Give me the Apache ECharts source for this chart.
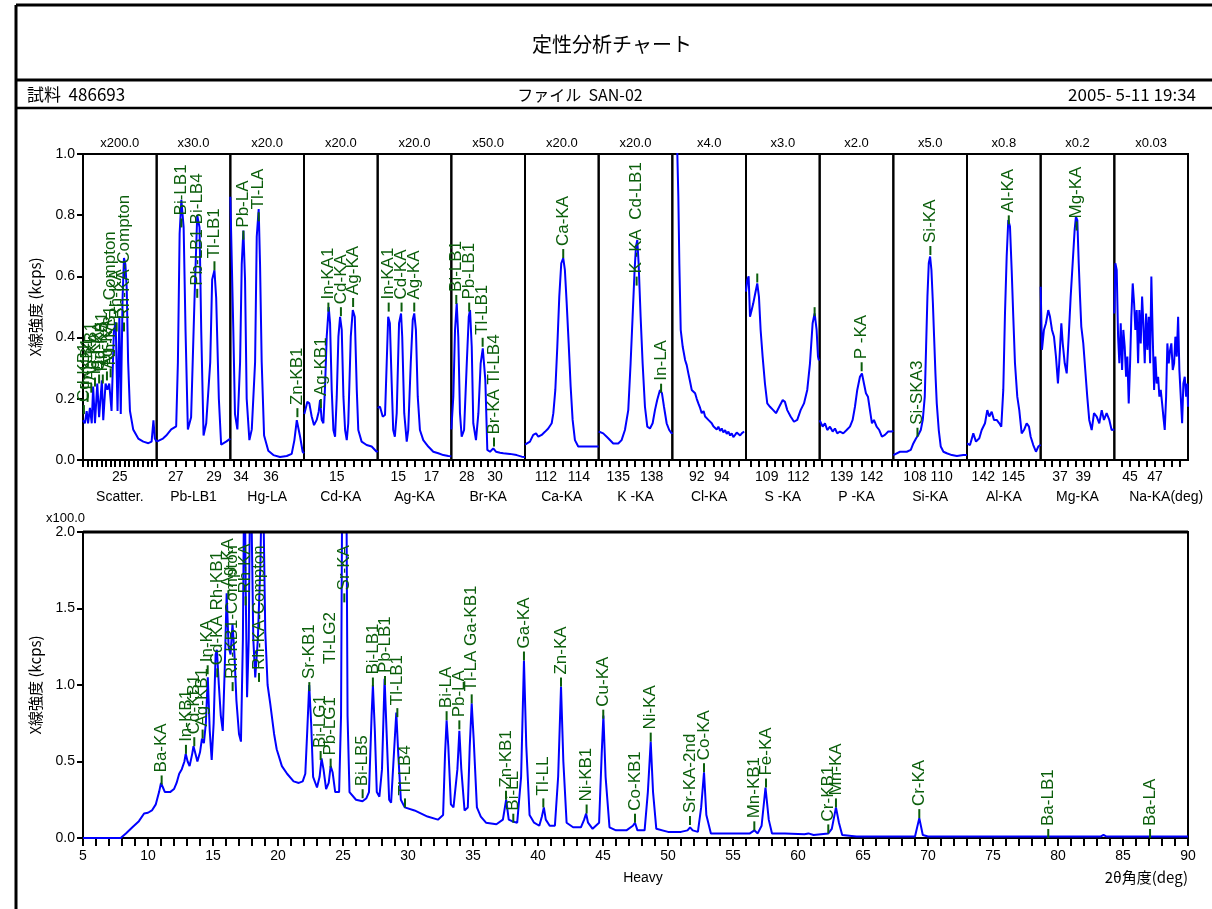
<!DOCTYPE html>
<html><head><meta charset="utf-8">
<script src="https://cdn.jsdelivr.net/npm/echarts@6/dist/echarts.min.js"></script>
<style>html,body{margin:0;padding:0;background:#fff}#c{width:1212px;height:909px}</style>
</head><body><div id="c"></div>
<script>
// ---------------- DATA ----------------
const panelNames = ['Scatter.','Pb-LB1','Hg-LA','Cd-KA','Ag-KA','Br-KA','Ca-KA','K -KA','Cl-KA','S -KA','P -KA','Si-KA','Al-KA','Mg-KA','Na-KA(deg)'];
const panelMultipliers = ['x200.0','x30.0','x20.0','x20.0','x20.0','x50.0','x20.0','x20.0','x4.0','x3.0','x2.0','x5.0','x0.8','x0.2','x0.03'];
const panelRanges = [[24.2,25.8],[26.0,29.85],[33.29,38.2],[13.04,17.45],[13.77,18.18],[26.91,32.11],[110.73,115.2],[133.24,139.86],[90.05,95.94],[107.03,114.03],[136.8,144.17],[106.37,111.9],[140.37,147.74],[35.35,41.66],[43.74,49.63]];
const panelTickLabels = [[25],[27,29],[34,36],[15],[15,17],[28,30],[112,114],[135,138],[92,94],[109,112],[139,142],[108,110],[142,145],[37,39],[45,47]];
const panelTickSteps = [0.1,0.5,0.5,0.5,0.5,0.5,0.5,0.75,2/3,0.75,1,2/3,0.75,2/3,2/3];

const pScatter = [[24.2,0.13],[24.24,0.12],[24.28,0.16],[24.31,0.12],[24.35,0.17],[24.39,0.12],[24.42,0.24],[24.46,0.12],[24.51,0.25],[24.55,0.14],[24.61,0.26],[24.64,0.13],[24.69,0.25],[24.73,0.23],[24.77,0.25],[24.82,0.16],[24.87,0.42],[24.91,0.45],[24.95,0.16],[24.99,0.47],[25.02,0.15],[25.06,0.53],[25.09,0.66],[25.12,0.64],[25.15,0.56],[25.18,0.32],[25.22,0.16],[25.29,0.1],[25.4,0.07],[25.51,0.06],[25.62,0.055],[25.69,0.06],[25.73,0.13],[25.76,0.07],[25.8,0.06]];
const pPbLB1 = [[26.0,0.06],[26.33,0.07],[26.5,0.08],[26.76,0.1],[27.02,0.11],[27.11,0.32],[27.2,0.74],[27.29,0.85],[27.41,0.76],[27.51,0.42],[27.63,0.1],[27.8,0.14],[27.98,0.53],[28.12,0.8],[28.24,0.76],[28.33,0.42],[28.45,0.08],[28.59,0.12],[28.8,0.32],[28.9,0.59],[29.02,0.62],[29.11,0.53],[29.25,0.2],[29.37,0.05],[29.63,0.06],[29.85,0.07]];
const pHgLA = [[33.29,0.86],[33.32,0.86],[33.49,0.42],[33.6,0.15],[33.76,0.1],[33.94,0.32],[34.05,0.64],[34.16,0.75],[34.27,0.59],[34.38,0.2],[34.56,0.065],[34.72,0.1],[34.94,0.32],[35.05,0.73],[35.18,0.82],[35.27,0.64],[35.38,0.32],[35.54,0.08],[35.82,0.03],[36.16,0.016],[36.6,0.01],[37.05,0.013],[37.38,0.02],[37.56,0.065],[37.72,0.13],[37.8,0.136],[37.94,0.076],[38.11,0.027],[38.2,0.022]];
const pCdKA = [[13.06,0.15],[13.1,0.15],[13.24,0.19],[13.36,0.185],[13.5,0.142],[13.64,0.114],[13.8,0.131],[13.92,0.158],[14.0,0.196],[14.1,0.131],[14.2,0.12],[14.3,0.24],[14.4,0.403],[14.52,0.5],[14.6,0.447],[14.7,0.229],[14.8,0.098],[14.9,0.076],[15.0,0.207],[15.1,0.403],[15.2,0.468],[15.3,0.425],[15.4,0.207],[15.5,0.098],[15.6,0.065],[15.69,0.12],[15.84,0.403],[15.96,0.49],[16.08,0.468],[16.2,0.229],[16.29,0.098],[16.49,0.06],[16.79,0.049],[17.09,0.044],[17.39,0.027],[17.45,0.03]];
const pAgKA = [[13.77,0.17],[13.91,0.174],[14.07,0.142],[14.21,0.147],[14.31,0.316],[14.4,0.468],[14.5,0.447],[14.61,0.25],[14.7,0.098],[14.8,0.076],[14.91,0.153],[15.05,0.447],[15.17,0.479],[15.24,0.403],[15.36,0.153],[15.51,0.06],[15.6,0.098],[15.75,0.316],[15.87,0.458],[15.96,0.479],[16.06,0.425],[16.17,0.207],[16.3,0.098],[16.5,0.065],[16.8,0.044],[17.1,0.027],[17.4,0.022],[17.7,0.016],[18.0,0.013],[18.18,0.012]];
const pBrKA = [[26.91,0.1],[27.05,0.207],[27.17,0.425],[27.29,0.512],[27.4,0.403],[27.52,0.153],[27.64,0.076],[27.81,0.098],[28.0,0.316],[28.14,0.468],[28.23,0.49],[28.35,0.37],[28.46,0.12],[28.65,0.065],[28.82,0.153],[28.98,0.316],[29.13,0.365],[29.22,0.36],[29.31,0.261],[29.45,0.033],[29.64,0.027],[29.87,0.038],[30.06,0.027],[30.35,0.024],[30.58,0.022],[31.05,0.02],[31.52,0.016],[31.88,0.011],[32.11,0.01]];
const pCaKA = [[110.73,0.05],[110.79,0.049],[111.03,0.06],[111.23,0.082],[111.4,0.087],[111.54,0.076],[111.74,0.082],[111.94,0.092],[112.14,0.103],[112.35,0.12],[112.45,0.153],[112.57,0.229],[112.69,0.37],[112.81,0.534],[112.93,0.643],[113.05,0.66],[113.15,0.621],[113.26,0.512],[113.38,0.381],[113.5,0.24],[113.62,0.131],[113.76,0.065],[113.96,0.044],[114.26,0.044],[114.67,0.044],[115.07,0.044],[115.2,0.044]];
const pKKA = [[133.24,0.093],[133.36,0.093],[133.65,0.087],[134.1,0.071],[134.55,0.054],[135.0,0.054],[135.3,0.065],[135.6,0.098],[135.9,0.163],[136.11,0.316],[136.29,0.468],[136.47,0.621],[136.59,0.697],[136.71,0.719],[136.83,0.643],[137.01,0.468],[137.19,0.316],[137.4,0.174],[137.61,0.109],[137.85,0.103],[138.09,0.12],[138.3,0.163],[138.5,0.196],[138.75,0.229],[138.93,0.218],[139.11,0.174],[139.35,0.12],[139.58,0.098],[139.8,0.087],[139.86,0.09]];
const pClKA = [[90.4,1.3],[90.45,1.0],[90.53,0.86],[90.61,0.643],[90.72,0.425],[90.88,0.37],[91.07,0.327],[91.2,0.31],[91.33,0.283],[91.45,0.26],[91.6,0.229],[91.75,0.235],[91.87,0.218],[92.0,0.2],[92.13,0.185],[92.27,0.17],[92.4,0.153],[92.55,0.16],[92.67,0.142],[92.8,0.148],[92.93,0.131],[93.07,0.125],[93.2,0.12],[93.33,0.11],[93.47,0.114],[93.6,0.1],[93.73,0.109],[93.87,0.095],[94.0,0.103],[94.13,0.09],[94.27,0.098],[94.4,0.085],[94.53,0.093],[94.67,0.08],[94.8,0.087],[94.93,0.075],[95.07,0.082],[95.2,0.09],[95.33,0.093],[95.47,0.08],[95.6,0.087],[95.79,0.093]];
const pSKA = [[107.03,0.55],[107.15,0.588],[107.28,0.6],[107.41,0.468],[107.57,0.49],[107.72,0.512],[107.91,0.545],[108.1,0.577],[108.26,0.534],[108.42,0.425],[108.61,0.338],[108.83,0.25],[109.05,0.185],[109.31,0.174],[109.62,0.163],[109.88,0.153],[110.19,0.174],[110.52,0.196],[110.73,0.19],[110.95,0.163],[111.27,0.142],[111.59,0.125],[111.9,0.131],[112.22,0.163],[112.54,0.185],[112.85,0.229],[113.11,0.316],[113.36,0.447],[113.55,0.479],[113.74,0.425],[113.87,0.338],[113.94,0.327],[114.03,0.33]];
const pPKA = [[136.8,0.13],[136.83,0.131],[137.1,0.109],[137.33,0.12],[137.56,0.098],[137.83,0.109],[138.1,0.093],[138.33,0.103],[138.56,0.087],[138.83,0.093],[139.16,0.087],[139.5,0.098],[139.83,0.109],[140.1,0.131],[140.33,0.174],[140.56,0.229],[140.83,0.272],[141.03,0.283],[141.23,0.25],[141.43,0.218],[141.63,0.207],[141.83,0.163],[142.03,0.12],[142.23,0.131],[142.5,0.109],[142.76,0.098],[143.03,0.076],[143.33,0.082],[143.66,0.093],[144.0,0.093],[144.17,0.095]];
const pSiKA = [[106.37,0.016],[106.42,0.016],[106.87,0.027],[107.38,0.027],[107.68,0.033],[107.87,0.054],[108.08,0.071],[108.25,0.082],[108.43,0.098],[108.58,0.131],[108.73,0.207],[108.83,0.37],[108.93,0.534],[109.03,0.643],[109.13,0.665],[109.23,0.621],[109.34,0.512],[109.43,0.403],[109.53,0.283],[109.63,0.185],[109.78,0.098],[109.93,0.044],[110.13,0.027],[110.38,0.022],[110.76,0.016],[111.14,0.013],[111.63,0.016],[111.9,0.016]];
const pAlKA = [[140.37,0.054],[140.4,0.054],[140.67,0.049],[141.0,0.087],[141.27,0.06],[141.6,0.071],[141.84,0.098],[142.17,0.12],[142.4,0.163],[142.6,0.142],[142.84,0.158],[143.07,0.131],[143.34,0.131],[143.6,0.12],[143.8,0.109],[144.0,0.229],[144.17,0.479],[144.34,0.665],[144.5,0.784],[144.67,0.763],[144.84,0.621],[145.0,0.468],[145.17,0.316],[145.4,0.207],[145.6,0.163],[145.84,0.087],[146.07,0.098],[146.34,0.12],[146.57,0.109],[146.74,0.076],[147.0,0.049],[147.27,0.027],[147.5,0.044],[147.74,0.05]];
const pMgKA = [[35.35,0.566],[35.38,0.566],[35.46,0.36],[35.63,0.425],[35.8,0.447],[36.0,0.49],[36.15,0.468],[36.32,0.425],[36.49,0.403],[36.66,0.338],[36.83,0.25],[36.94,0.316],[37.12,0.447],[37.24,0.381],[37.41,0.316],[37.58,0.283],[37.75,0.403],[37.92,0.534],[38.09,0.643],[38.26,0.752],[38.37,0.795],[38.49,0.784],[38.61,0.643],[38.72,0.534],[38.83,0.436],[39.0,0.381],[39.17,0.294],[39.34,0.207],[39.51,0.131],[39.72,0.098],[39.92,0.153],[40.15,0.142],[40.37,0.12],[40.58,0.163],[40.77,0.131],[41.0,0.153],[41.23,0.131],[41.43,0.098],[41.66,0.1]];
const pNaKA = [[43.74,0.479],[43.82,0.643],[43.93,0.621],[44.04,0.403],[44.14,0.316],[44.25,0.447],[44.36,0.294],[44.46,0.425],[44.57,0.37],[44.68,0.272],[44.78,0.338],[44.89,0.185],[45.0,0.316],[45.1,0.468],[45.21,0.577],[45.32,0.512],[45.42,0.425],[45.53,0.49],[45.64,0.316],[45.74,0.49],[45.85,0.381],[45.96,0.534],[46.06,0.447],[46.17,0.316],[46.28,0.479],[46.38,0.36],[46.49,0.468],[46.6,0.316],[46.7,0.6],[46.81,0.403],[46.92,0.229],[47.02,0.338],[47.13,0.25],[47.24,0.272],[47.34,0.207],[47.45,0.229],[47.56,0.185],[47.66,0.142],[47.77,0.098],[47.88,0.207],[47.98,0.381],[48.09,0.316],[48.2,0.36],[48.3,0.381],[48.41,0.294],[48.52,0.316],[48.62,0.403],[48.73,0.338],[48.84,0.468],[48.94,0.294],[49.05,0.207],[49.16,0.12],[49.26,0.25],[49.37,0.272],[49.48,0.207],[49.58,0.25],[49.63,0.174]];
const panelData = [pScatter,pPbLB1,pHgLA,pCdKA,pAgKA,pBrKA,pCaKA,pKKA,pClKA,pSKA,pPKA,pSiKA,pAlKA,pMgKA,pNaKA];

// peak labels: [text, position (deg), intensity at tick foot]
const peaksScatter = [['Cd-KB1',24.22,0.15],['In-KB1',24.3,0.19],['Ag-KB1',24.38,0.22],['In-KA',24.46,0.24],['Cd-KA',24.55,0.25],['Rh-KB1',24.63,0.25],['Ag-KA',24.72,0.26],['Rh-KB1-Compton',24.8,0.27],['Rh-KA',24.93,0.42],['Rh-KA-Compton',25.09,0.42]];
const peaksPbLB1 = [['Bi-LB1',27.29,0.76],['Pb-LB1 Bi-LB4',28.12,0.53],['Tl-LB1',29.02,0.62]];
const peaksHgLA = [['Pb-LA',34.16,0.72],['Tl-LA',35.18,0.78],['Zn-KB1',37.76,0.14]];
const peaksCdKA = [['Ag-KB1',14.05,0.17],['In-KA1',14.5,0.485],['Cd-KA',15.25,0.47],['Ag-KA',15.98,0.5]];
const peaksAgKA = [['In-KA1',14.43,0.485],['Cd-KA',15.2,0.485],['Ag-KA',15.96,0.485]];
const peaksBrKA = [['Bi-LB1',27.26,0.51],['Pb-LB1',28.17,0.485],['Tl-LB1',29.12,0.37],['Br-KA Tl-LB4',29.92,0.044]];
const peaksCaKA = [['Ca-KA',113.05,0.66]];
const peaksKKA = [['K -KA  Cd-LB1',136.65,0.57],['In-LA',138.85,0.22]];
const peaksClKA = [];
const peaksSKA = [['',108.1,0.58],['',113.55,0.47]];
const peaksPKA = [['P -KA',141.0,0.29]];
const peaksSiKA = [['Si-SKA3',108.18,0.076],['Si-KA',109.15,0.67]];
const peaksAlKA = [['Al-KA',144.55,0.77]];
const peaksMgKA = [['Mg-KA',38.43,0.75]];
const peaksNaKA = [];
const panelPeaks = [peaksScatter,peaksPbLB1,peaksHgLA,peaksCdKA,peaksAgKA,peaksBrKA,peaksCaKA,peaksKKA,peaksClKA,peaksSKA,peaksPKA,peaksSiKA,peaksAlKA,peaksMgKA,peaksNaKA];

// Heavy (full) scan, x100.0
const heavyScan = [[5.0,0.0],[7.9,0.0],[8.3,0.03],[8.8,0.07],[9.3,0.11],[9.7,0.16],[10.0,0.165],[10.3,0.18],[10.6,0.22],[10.85,0.3],[11.0,0.36],[11.15,0.33],[11.3,0.3],[11.7,0.3],[12.0,0.32],[12.2,0.36],[12.4,0.42],[12.6,0.45],[12.8,0.5],[12.9,0.55],[13.05,0.5],[13.2,0.47],[13.4,0.55],[13.5,0.6],[13.65,0.55],[13.8,0.5],[14.0,0.56],[14.15,0.65],[14.3,0.62],[14.45,0.75],[14.6,1.05],[14.75,0.7],[14.9,0.51],[15.05,0.75],[15.2,1.2],[15.3,1.23],[15.45,1.0],[15.6,0.8],[15.75,0.7],[15.9,1.1],[16.05,1.6],[16.2,1.25],[16.35,1.2],[16.5,1.4],[16.65,1.2],[16.8,0.9],[17.0,0.68],[17.15,0.63],[17.3,1.3],[17.42,2.6],[17.52,1.6],[17.62,0.92],[17.75,1.3],[17.88,2.6],[18.0,2.6],[18.1,1.3],[18.25,1.05],[18.45,1.3],[18.65,1.8],[18.8,2.6],[18.92,2.6],[19.02,1.35],[19.2,1.0],[19.4,0.88],[19.7,0.68],[19.9,0.58],[20.3,0.47],[20.7,0.42],[21.2,0.37],[21.6,0.36],[21.9,0.37],[22.1,0.42],[22.25,0.7],[22.4,1.0],[22.55,0.75],[22.7,0.4],[23.0,0.33],[23.2,0.4],[23.35,0.52],[23.5,0.45],[23.7,0.32],[23.9,0.36],[24.05,0.47],[24.2,0.43],[24.4,0.3],[24.7,0.3],[24.85,0.8],[24.95,2.5],[25.25,2.5],[25.35,0.8],[25.5,0.3],[26.0,0.25],[26.5,0.24],[26.8,0.26],[27.0,0.3],[27.2,0.8],[27.3,1.0],[27.45,0.7],[27.6,0.3],[27.8,0.27],[28.0,0.45],[28.2,1.04],[28.35,0.7],[28.55,0.25],[28.7,0.23],[28.95,0.6],[29.1,0.82],[29.25,0.55],[29.45,0.25],[29.75,0.2],[30.5,0.18],[31.5,0.14],[32.3,0.12],[32.7,0.15],[32.85,0.55],[32.97,0.77],[33.1,0.6],[33.3,0.22],[33.5,0.2],[33.8,0.45],[33.95,0.7],[34.1,0.45],[34.35,0.18],[34.6,0.2],[34.75,0.6],[34.9,0.88],[35.05,0.65],[35.3,0.2],[35.6,0.14],[36.0,0.1],[36.8,0.09],[37.3,0.12],[37.55,0.25],[37.75,0.12],[38.0,0.11],[38.15,0.12],[38.4,0.1],[38.7,0.4],[38.92,1.16],[39.1,0.6],[39.35,0.15],[39.7,0.1],[40.1,0.08],[40.3,0.14],[40.45,0.2],[40.6,0.12],[40.9,0.08],[41.3,0.08],[41.55,0.4],[41.77,0.99],[41.95,0.5],[42.2,0.1],[42.7,0.07],[43.3,0.07],[43.55,0.12],[43.7,0.16],[43.85,0.1],[44.2,0.06],[44.7,0.1],[44.9,0.55],[45.03,0.8],[45.2,0.4],[45.5,0.07],[46.0,0.05],[46.8,0.05],[47.3,0.08],[47.46,0.1],[47.65,0.05],[48.2,0.05],[48.45,0.3],[48.67,0.63],[48.85,0.3],[49.1,0.06],[50.0,0.04],[51.0,0.04],[51.5,0.05],[51.7,0.07],[51.9,0.05],[52.3,0.04],[52.55,0.2],[52.77,0.43],[52.95,0.15],[53.3,0.03],[54.5,0.03],[56.3,0.03],[56.64,0.05],[56.9,0.03],[57.2,0.08],[57.5,0.33],[57.75,0.12],[58.0,0.03],[59.0,0.03],[60.5,0.025],[60.8,0.03],[61.2,0.02],[62.33,0.03],[62.6,0.06],[62.92,0.2],[63.15,0.1],[63.4,0.02],[64.5,0.01],[69.0,0.01],[69.33,0.13],[69.6,0.02],[70.0,0.01],[83.3,0.01],[83.5,0.02],[83.7,0.01],[90.0,0.01]];
const heavyPeaks = [['Ba-KA',11.05,0.35],['In-KB1',12.92,0.55],['Cd-KB1',13.56,0.6],['Ag-KB1',14.2,0.65],['In-KA',14.59,1.07],['Cd-KA Rh-KB1',15.33,1.05],['Ag-KA',16.18,1.56],['Rh-KB1-Compton',16.51,0.96],['Rh-KA',17.51,1.52],['Rh-KA-Compton',18.54,1.02],['Sr-KB1',22.41,0.96],['Bi-LG1',23.28,0.51],['Pb-LG1       Tl-LG2',24.05,0.46],['Sr-KA',25.1,1.54],['Bi-LB5',26.51,0.26],['Bi-LB1',27.3,0.99],['Pb-LB1',28.23,1.0],['Tl-LB1',29.18,0.79],['Tl-LB4',29.77,0.2],['Bi-LA',32.97,0.77],['Pb-LA',33.95,0.71],['Tl-LA Ga-KB1',34.9,0.88],['Zn-KB1',37.54,0.25],['Bi-LL',38.1,0.1],['Ga-KA',38.92,1.16],['Tl-LL',40.41,0.2],['Zn-KA',41.77,0.99],['Ni-KB1',43.74,0.16],['Cu-KA',45.02,0.78],['Co-KB1',47.46,0.1],['Ni-KA',48.67,0.63],['Sr-KA-2nd',51.69,0.085],['Co-KA',52.77,0.43],['Mn-KB1',56.64,0.05],['Fe-KA',57.54,0.33],['Cr-KB1',62.33,0.03],['Mn-KA',62.92,0.2],['Cr-KA',69.33,0.13],['Ba-LB1',79.25,0.0],['Ba-LA',87.08,0.0]];
const heavyXLabels = [5,10,15,20,25,30,35,40,45,50,55,60,65,70,75,80,85,90];

// ---------------- LAYOUT ----------------
const FONT = "'Liberation Sans', 'Noto Sans CJK JP', sans-serif";
const JFONT = "'Noto Sans CJK JP', 'Liberation Sans', sans-serif";
const BLUE = '#0000ff', GREEN = '#0b5e0b';
const TL = 83, TR = 1188, TT = 154, TB = 460;
const BT = 532, BB = 838;
const PW = (TR - TL) / 15;

function ticksFor(i) {
  const [mn, mx] = panelRanges[i], s = panelTickSteps[i], b = panelTickLabels[i][0];
  const out = [];
  for (let k = -200; k <= 200; k++) {
    const v = +(b + k * s).toFixed(4);
    if (v >= mn - 1e-6 && v <= mx + 1e-6) out.push(v);
  }
  return out;
}
function labelRenderer(peaks) {
  return function (params, api) {
    const p = api.coord([api.value(0), api.value(1)]);
    const txt = peaks[params.dataIndex][0];
    const ch = [{ type: 'line', shape: { x1: p[0], y1: p[1], x2: p[0], y2: p[1] - 9 }, style: { stroke: GREEN, lineWidth: 2 } }];
    if (txt) ch.push({ type: 'text', x: p[0], y: p[1] - 12, rotation: Math.PI / 2,
      style: { text: txt, fill: GREEN, font: '17px ' + FONT, align: 'left', verticalAlign: 'middle' } });
    return { type: 'group', children: ch };
  };
}

const grids = [], xAxes = [], yAxes = [], series = [], graphics = [];
for (let i = 0; i < 15; i++) {
  grids.push({ left: TL + i * PW, top: TT, width: PW, height: TB - TT, show: true, borderColor: '#000', borderWidth: 2 });
  xAxes.push({ gridIndex: i, type: 'value', min: panelRanges[i][0], max: panelRanges[i][1],
    axisLine: { show: true, onZero: false, lineStyle: { color: '#000', width: 2 } },
    axisTick: { show: true, length: 7, lineStyle: { color: '#000', width: 2 }, customValues: ticksFor(i) },
    axisLabel: { color: '#000', fontSize: 14, fontFamily: FONT, margin: 10, customValues: panelTickLabels[i], formatter: v => String(v) },
    splitLine: { show: false },
    name: panelNames[i], nameLocation: 'middle', nameGap: 30,
    nameTextStyle: { color: '#000', fontSize: 14, fontFamily: FONT, padding: i === 14 ? [0, 0, 0, 30] : 0 } });
  yAxes.push({ gridIndex: i, type: 'value', min: 0, max: 1, interval: 0.2, show: i === 0,
    axisLine: { show: true, lineStyle: { color: '#000', width: 2 } },
    axisTick: { show: true, length: 6, lineStyle: { color: '#000', width: 2 } },
    axisLabel: { color: '#000', fontSize: 14, fontFamily: FONT, margin: 8, formatter: v => v.toFixed(1) },
    splitLine: { show: false },
    name: i === 0 ? 'X線強度 (kcps)' : '', nameLocation: 'middle', nameGap: 40, nameRotate: 90,
    nameTextStyle: { color: '#000', fontSize: 15, fontFamily: JFONT } });
  series.push({ type: 'line', xAxisIndex: i, yAxisIndex: i, data: panelData[i], showSymbol: false, symbol: 'none',
    lineStyle: { color: BLUE, width: 2 }, clip: true, z: 2, silent: true });
  if (panelPeaks[i].length) series.push({ type: 'custom', xAxisIndex: i, yAxisIndex: i,
    data: panelPeaks[i].map(p => [p[1], p[2]]), renderItem: labelRenderer(panelPeaks[i]), clip: false, z: 5, silent: true });
  graphics.push({ type: 'text', x: TL + (i + 0.5) * PW, y: 143,
    style: { text: panelMultipliers[i], fill: '#000', font: '13px ' + FONT, align: 'center', verticalAlign: 'middle' } });
}
// bottom heavy scan
const heavyTicks = []; for (let v = 5; v <= 90; v++) heavyTicks.push(v);
grids.push({ left: TL, top: BT, width: TR - TL, height: BB - BT, show: true, borderColor: '#000', borderWidth: 2 });
xAxes.push({ gridIndex: 15, type: 'value', min: 5, max: 90,
  axisLine: { show: true, onZero: false, lineStyle: { color: '#000', width: 2 } },
  axisTick: { show: true, length: 8, lineStyle: { color: '#000', width: 2 }, customValues: heavyTicks },
  axisLabel: { color: '#000', fontSize: 14, fontFamily: FONT, margin: 11, customValues: heavyXLabels },
  splitLine: { show: false },
  name: 'Heavy', nameLocation: 'middle', nameGap: 33, nameTextStyle: { color: '#000', fontSize: 14, fontFamily: FONT, padding: [0, 0, 0, 15] } });
yAxes.push({ gridIndex: 15, type: 'value', min: 0, max: 2, interval: 0.5,
  axisLine: { show: true, lineStyle: { color: '#000', width: 2 } },
  axisTick: { show: true, length: 6, lineStyle: { color: '#000', width: 2 } },
  axisLabel: { color: '#000', fontSize: 14, fontFamily: FONT, margin: 8, formatter: v => v.toFixed(1) },
  splitLine: { show: false },
  name: 'X線強度 (kcps)', nameLocation: 'middle', nameGap: 40, nameRotate: 90,
  nameTextStyle: { color: '#000', fontSize: 15, fontFamily: JFONT } });
series.push({ type: 'line', xAxisIndex: 15, yAxisIndex: 15, data: heavyScan, showSymbol: false, symbol: 'none',
  lineStyle: { color: BLUE, width: 2 }, clip: true, z: 2, silent: true });
series.push({ type: 'custom', xAxisIndex: 15, yAxisIndex: 15, data: heavyPeaks.map(p => [p[1], p[2]]),
  renderItem: labelRenderer(heavyPeaks), clip: false, z: 5, silent: true });

// frame & header
const frameLine = (x1, y1, x2, y2, w) => ({ type: 'line', shape: { x1, y1, x2, y2 }, style: { stroke: '#000', lineWidth: w }, z: 10 });
graphics.push(frameLine(16, 5, 1212, 5, 3), frameLine(16, 5, 16, 909, 3), frameLine(16, 80, 1212, 80, 3), frameLine(16, 108, 1212, 108, 2.5));
graphics.push(frameLine(TL, BT, TR, BT, 3));
graphics.push({ type: 'text', x: 612, y: 44, style: { text: '定性分析チャート', fill: '#000', font: '20px ' + JFONT, align: 'center', verticalAlign: 'middle' } });
graphics.push({ type: 'text', x: 27, y: 95, style: { text: '試料  486693', fill: '#000', font: '17px ' + JFONT, align: 'left', verticalAlign: 'middle' } });
graphics.push({ type: 'text', x: 580, y: 95, style: { text: 'ファイル  SAN-02', fill: '#000', font: '16px ' + JFONT, align: 'center', verticalAlign: 'middle' } });
graphics.push({ type: 'text', x: 1196, y: 95, style: { text: '2005- 5-11 19:34', fill: '#000', font: '17px ' + JFONT, align: 'right', verticalAlign: 'middle' } });
graphics.push({ type: 'text', x: 85, y: 518, style: { text: 'x100.0', fill: '#000', font: '13px ' + FONT, align: 'right', verticalAlign: 'middle' } });
graphics.push({ type: 'text', x: 1188, y: 877, style: { text: '2θ角度(deg)', fill: '#000', font: '15px ' + JFONT, align: 'right', verticalAlign: 'middle' } });

const chart = echarts.init(document.getElementById('c'), null, { renderer: 'canvas' });
chart.setOption({
  animation: false, backgroundColor: '#fff',
  grid: grids, xAxis: xAxes, yAxis: yAxes, series: series, graphic: graphics
});
</script></body></html>
